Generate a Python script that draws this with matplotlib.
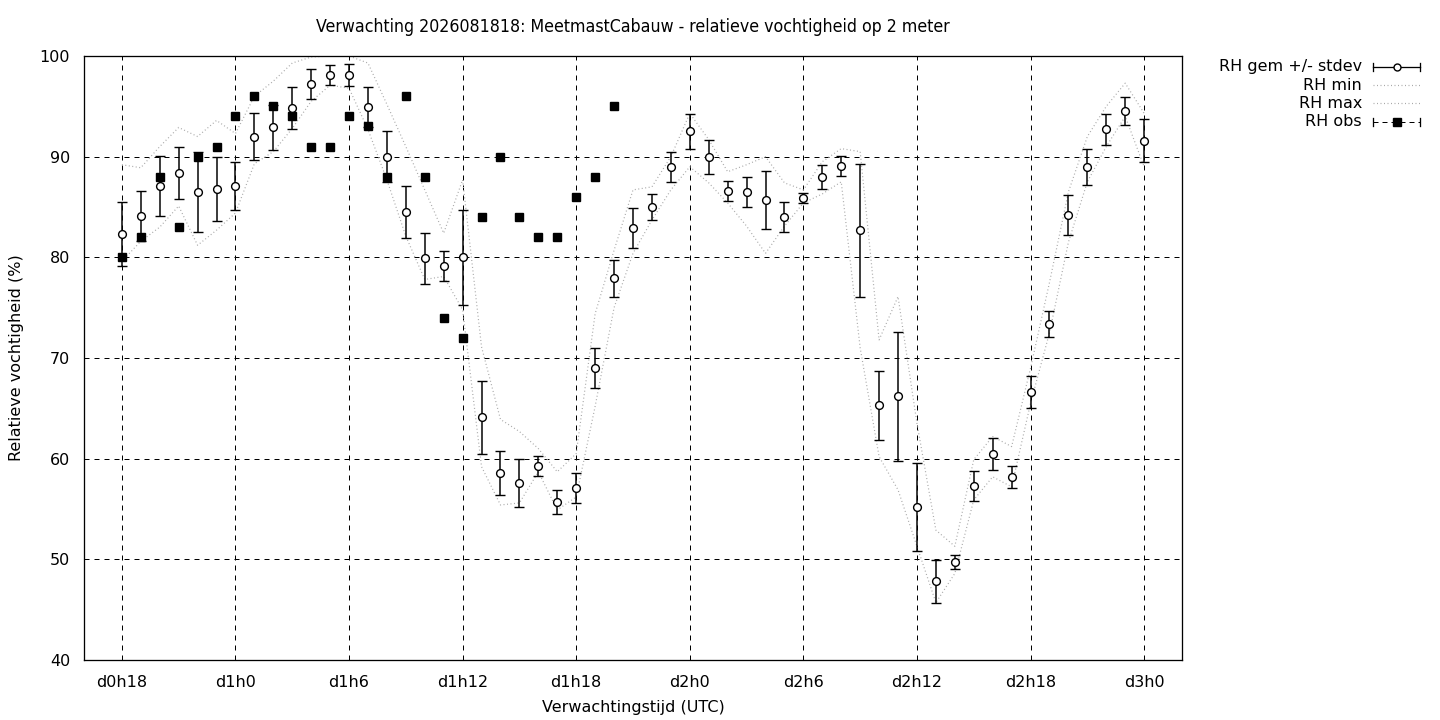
import matplotlib
matplotlib.use("Agg")
import matplotlib.pyplot as plt
from matplotlib.lines import Line2D
import numpy as np

plt.rcParams['font.family'] = ['DejaVu Sans']
plt.rcParams['lines.scale_dashes'] = False

# hours since d0h0
hours = list(range(18, 73))
rh_mean = [82.3, 84.1, 87.1, 88.4, 86.5, 86.8, 87.1,
           92.0, 92.9, 94.8, 97.2, 98.1, 98.1,
           94.9, 90.0, 84.5, 79.9, 79.1, 80.0,
           64.1, 58.6, 57.6, 59.3, 55.7, 57.1,
           69.0, 77.9, 82.9, 85.0, 89.0, 92.5,
           90.0, 86.6, 86.5, 85.7, 84.0, 85.9,
           88.0, 89.1, 82.7, 65.3, 66.2, 55.2,
           47.8, 49.7, 57.3, 60.5, 58.2, 66.6,
           73.4, 84.2, 89.0, 92.7, 94.5, 91.6]
rh_sd = [3.2, 2.5, 3.0, 2.6, 4.0, 3.2, 2.4,
         2.3, 2.2, 2.1, 1.5, 1.0, 1.1,
         2.0, 2.5, 2.6, 2.5, 1.5, 4.7,
         3.6, 2.2, 2.4, 1.0, 1.2, 1.5,
         2.0, 1.8, 2.0, 1.3, 1.5, 1.7,
         1.7, 1.0, 1.5, 2.9, 1.5, 0.5,
         1.2, 1.0, 6.6, 3.4, 6.4, 4.4,
         2.1, 0.7, 1.5, 1.6, 1.1, 1.6,
         1.3, 2.0, 1.8, 1.5, 1.4, 2.1]
rh_max = [89.2, 88.9, 91.0, 92.9, 92.0, 93.6, 92.3,
          96.0, 97.5, 99.3, 99.9, 100.0, 100.0,
          99.3, 95.2, 91.0, 86.7, 82.4, 87.7,
          71.1, 63.9, 62.7, 61.0, 58.7, 60.5,
          74.4, 80.7, 86.7, 87.0, 90.0, 94.3,
          91.7, 88.5, 89.2, 90.0, 87.4, 86.7,
          89.5, 90.8, 90.5, 71.8, 76.1, 63.5,
          52.9, 51.3, 59.9, 62.2, 61.2, 69.0,
          77.5, 86.5, 92.0, 95.0, 97.3, 94.3]
rh_min = [79.6, 81.6, 83.0, 85.1, 81.2, 82.7, 84.4,
          89.3, 90.5, 92.8, 95.5, 97.1, 96.8,
          92.7, 87.7, 82.1, 77.8, 78.1, 74.8,
          59.2, 55.4, 55.6, 58.7, 54.9, 56.2,
          65.2, 75.0, 80.4, 83.7, 86.7, 89.0,
          87.4, 85.4, 83.1, 80.4, 83.1, 85.4,
          86.3, 87.5, 71.0, 60.2, 56.9, 51.3,
          45.7, 48.6, 55.9, 58.2, 57.2, 65.5,
          72.5, 81.5, 87.5, 91.0, 94.0, 89.0]
obs_hours = list(range(18, 45))
rh_obs = [80, 82, 88, 83, 90, 91, 94, 96, 95, 94,
          91, 91, 94, 93, 88, 96, 88, 74, 72, 84,
          90, 84, 82, 82, 86, 88, 95]

xtick_pos = [18, 24, 30, 36, 42, 48, 54, 60, 66, 72]
xtick_labels = ["d0h18", "d1h0", "d1h6", "d1h12", "d1h18",
                "d2h0", "d2h6", "d2h12", "d2h18", "d3h0"]
ytick_pos = [40, 50, 60, 70, 80, 90, 100]

W, H = 1440, 720
FS = 11.5
fig = plt.figure(figsize=(W/100, H/100), dpi=100)
ax = fig.add_axes([84/W, 1-660/H, (1182-84)/W, (660-56)/H])

px = 0.72  # points per pixel
grid_kw = dict(color='black', lw=1*px, linestyle=(0, (5*px, 5*px)), zorder=1)
for xv in xtick_pos:
    ax.axvline(xv, **grid_kw)
for yv in ytick_pos[1:-1]:
    ax.axhline(yv, **grid_kw)

dot_style = (0, (1*px, 2.5*px))
ax.plot(hours, rh_min, color='#a8a8a8', lw=1.2*px, linestyle=dot_style, zorder=2)
ax.plot(hours, rh_max, color='#a8a8a8', lw=1.2*px, linestyle=dot_style, zorder=2)

ax.errorbar(hours, rh_mean, yerr=rh_sd, fmt='o', color='black', mfc='white',
            mec='black', ms=5.6, mew=1.0, elinewidth=1.5*px, capsize=5*px,
            capthick=1.5*px, zorder=4)
ax.plot(obs_hours, rh_obs, linestyle='none', marker='s', color='black', ms=5.8,
        zorder=3)

ax.set_xlim(16, 74)
ax.set_ylim(40, 100)
ax.set_xticks(xtick_pos)
ax.set_xticklabels(xtick_labels)
ax.set_yticks(ytick_pos)
ax.tick_params(axis='both', length=0, labelsize=FS, pad=10)
ax.tick_params(axis='x', pad=11)
for s in ax.spines.values():
    s.set_linewidth(1.3*px)
    s.set_zorder(5)

ax.set_xlabel("Verwachtingstijd (UTC)", fontsize=FS, labelpad=7)
ax.set_ylabel("Relatieve vochtigheid (%)", fontsize=FS, labelpad=11)
ax.set_title("Verwachting 2026081818: MeetmastCabauw - relatieve vochtigheid op 2 meter",
             fontsize=12.7, fontstretch='condensed', pad=17)

# manual gnuplot-style legend (figure pixel coordinates)
def fx(x):
    return x / W
def fy(y):
    return 1 - y / H

labels = ["RH gem +/- stdev", "RH min", "RH max", "RH obs"]
ys = [67, 85, 103, 122]
x0, x1 = 1373, 1420
xc = (x0 + x1) / 2
for lab, yy in zip(labels, ys):
    fig.text(fx(1362), fy(yy), lab, ha='right', va='center', fontsize=FS)

tf = fig.transFigure
# gem
fig.add_artist(Line2D([fx(x0), fx(x1)], [fy(ys[0])]*2, color='black', lw=1.3*px, transform=tf))
for xe in (x0, x1):
    fig.add_artist(Line2D([fx(xe)]*2, [fy(ys[0]-4), fy(ys[0]+4)], color='black', lw=1.3*px, transform=tf))
fig.add_artist(Line2D([fx(xc)], [fy(ys[0])], marker='o', mfc='white', mec='black', ms=5, mew=1.0,
                      linestyle='none', transform=tf))
# min / max
for yy in ys[1:3]:
    fig.add_artist(Line2D([fx(x0), fx(x1)], [fy(yy)]*2, color='#a8a8a8', lw=1.2*px,
                          linestyle=dot_style, transform=tf))
# obs
fig.add_artist(Line2D([fx(x0), fx(x1)], [fy(ys[3])]*2, color='black', lw=1.0*px,
                      linestyle=(0, (5*px, 4*px)), transform=tf))
for xe in (x0, x1):
    fig.add_artist(Line2D([fx(xe)]*2, [fy(ys[3]-4), fy(ys[3]+4)], color='black', lw=1.3*px, transform=tf))
fig.add_artist(Line2D([fx(xc)], [fy(ys[3])], marker='s', color='black', ms=5.5,
                      linestyle='none', transform=tf))

fig.savefig("out.png", dpi=100)
